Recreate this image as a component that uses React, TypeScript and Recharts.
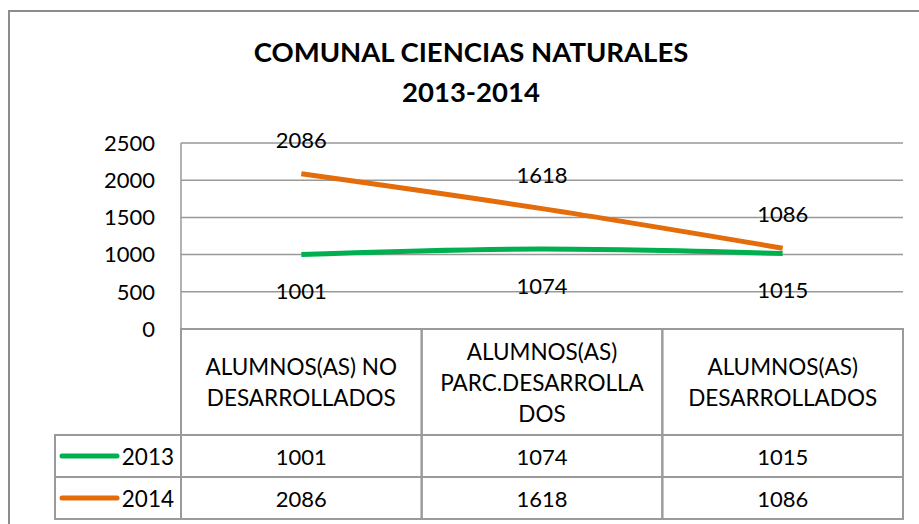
import { LineChart, Line, XAxis, YAxis, CartesianGrid, LabelList } from 'recharts';

const categories = ['ALUMNOS(AS) NO DESARROLLADOS', 'ALUMNOS(AS) PARC.DESARROLLADOS', 'ALUMNOS(AS) DESARROLLADOS'];
const categoryLines = [
  ['ALUMNOS(AS) NO', 'DESARROLLADOS'],
  ['ALUMNOS(AS)', 'PARC.DESARROLLA', 'DOS'],
  ['ALUMNOS(AS)', 'DESARROLLADOS'],
];
const values2013 = [1001, 1074, 1015];
const values2014 = [2086, 1618, 1086];
const seriesNames = ['2013', '2014'];
const yTicks = [0, 500, 1000, 1500, 2000, 2500];

const data = categories.map((c, i) => ({ category: c, s2013: values2013[i], s2014: values2014[i] }));

const W = 919;
const H = 524;
const FONT = 'Lato, "Noto Sans", sans-serif';
const GRID = '#999999';
const TABLE = '#9a9a9a';
const GREEN = '#00B050';
const ORANGE = '#E46C0A';
const M = { top: 143, right: 16, bottom: 0, left: 121 };
const YW = 60;
const XH = 195;
const CELL = (W - M.left - YW - M.right) / categories.length;
const HEAD = 106;
const ROW = 42;
const LEG_W = 126;

function TableTick(props: any) {
  const { x, y, index } = props;
  const left = x - CELL / 2;
  const lines = categoryLines[index] || [];
  const lh = 31;
  const firstY = y + 53 - ((lines.length - 1) * lh) / 2;
  return (
    <g>
      <rect x={left} y={y} width={CELL} height={HEAD + 2 * ROW} fill="none" stroke={TABLE} strokeWidth={2} />
      <line x1={left} x2={left + CELL} y1={y + HEAD} y2={y + HEAD} stroke={TABLE} strokeWidth={2} />
      <line x1={left} x2={left + CELL} y1={y + HEAD + ROW} y2={y + HEAD + ROW} stroke={TABLE} strokeWidth={2} />
      {lines.map((l, i) => (
        <text key={i} x={x} y={firstY + i * lh} textAnchor="middle" dominantBaseline="central" fontSize={22.5} fill="#000" fontFamily={FONT}>
          {l}
        </text>
      ))}
      <text x={x} y={y + HEAD + ROW / 2} textAnchor="middle" dominantBaseline="central" fontSize={22} fill="#000" fontFamily={FONT}>
        {values2013[index]}
      </text>
      <text x={x} y={y + HEAD + ROW * 1.5} textAnchor="middle" dominantBaseline="central" fontSize={22} fill="#000" fontFamily={FONT}>
        {values2014[index]}
      </text>
      {index === 0 && (
        <g>
          <rect x={left - LEG_W} y={y + HEAD} width={LEG_W} height={2 * ROW} fill="none" stroke={TABLE} strokeWidth={2} />
          <line x1={left - LEG_W} x2={left} y1={y + HEAD + ROW} y2={y + HEAD + ROW} stroke={TABLE} strokeWidth={2} />
          {[GREEN, ORANGE].map((c, i) => (
            <g key={i}>
              <line x1={left - 119} x2={left - 64} y1={y + HEAD + ROW * (i + 0.5)} y2={y + HEAD + ROW * (i + 0.5)} stroke={c} strokeWidth={5} strokeLinecap="round" />
              <text x={left - 7} y={y + HEAD + ROW * (i + 0.5)} textAnchor="end" dominantBaseline="central" fontSize={22.5} fill="#000" fontFamily={FONT}>
                {seriesNames[i]}
              </text>
            </g>
          ))}
        </g>
      )}
    </g>
  );
}

export default function App() {
  return (
    <div style={{ position: 'absolute', left: 0, top: 0, width: W, height: H, background: '#fff', overflow: 'hidden', fontFamily: FONT }}>
      <div style={{ position: 'absolute', left: 8, top: 10, width: 940, height: 560, borderLeft: '2px solid #8c8c8c', borderTop: '2px solid #8c8c8c' }} />
      <div style={{ position: 'absolute', left: 0, top: 32, width: 942, textAlign: 'center', fontWeight: 700, fontSize: 27.5, lineHeight: '40px', color: '#000' }}>
        COMUNAL CIENCIAS NATURALES
        <br />
        2013-2014
      </div>
      <LineChart width={W} height={H} data={data} margin={M} style={{ position: 'absolute', left: 0, top: 0 }}>
        <CartesianGrid vertical={false} stroke={GRID} strokeWidth={1.5} />
        <XAxis
          dataKey="category"
          scale="band"
          height={XH}
          axisLine={false}
          tickLine={false}
          tickSize={0}
          tickMargin={0}
          interval={0}
          tick={<TableTick />}
        />
        <YAxis
          width={YW}
          domain={[0, 2500]}
          ticks={yTicks}
          axisLine={{ stroke: GRID, strokeWidth: 1.5 }}
          tickLine={false}
          tickSize={0}
          tickMargin={26}
          tick={{ fontSize: 22, fill: '#000', fontFamily: FONT }}
        />
        <Line dataKey="s2013" name="2013" stroke={GREEN} strokeWidth={5} type="monotone" dot={false} isAnimationActive={false}>
          <LabelList dataKey="s2013" position="bottom" offset={29} fontSize={22} fill="#000" fontFamily={FONT} />
        </Line>
        <Line dataKey="s2014" name="2014" stroke={ORANGE} strokeWidth={5} type="monotone" dot={false} isAnimationActive={false}>
          <LabelList dataKey="s2014" position="top" offset={26} fontSize={22} fill="#000" fontFamily={FONT} />
        </Line>
      </LineChart>
    </div>
  );
}
